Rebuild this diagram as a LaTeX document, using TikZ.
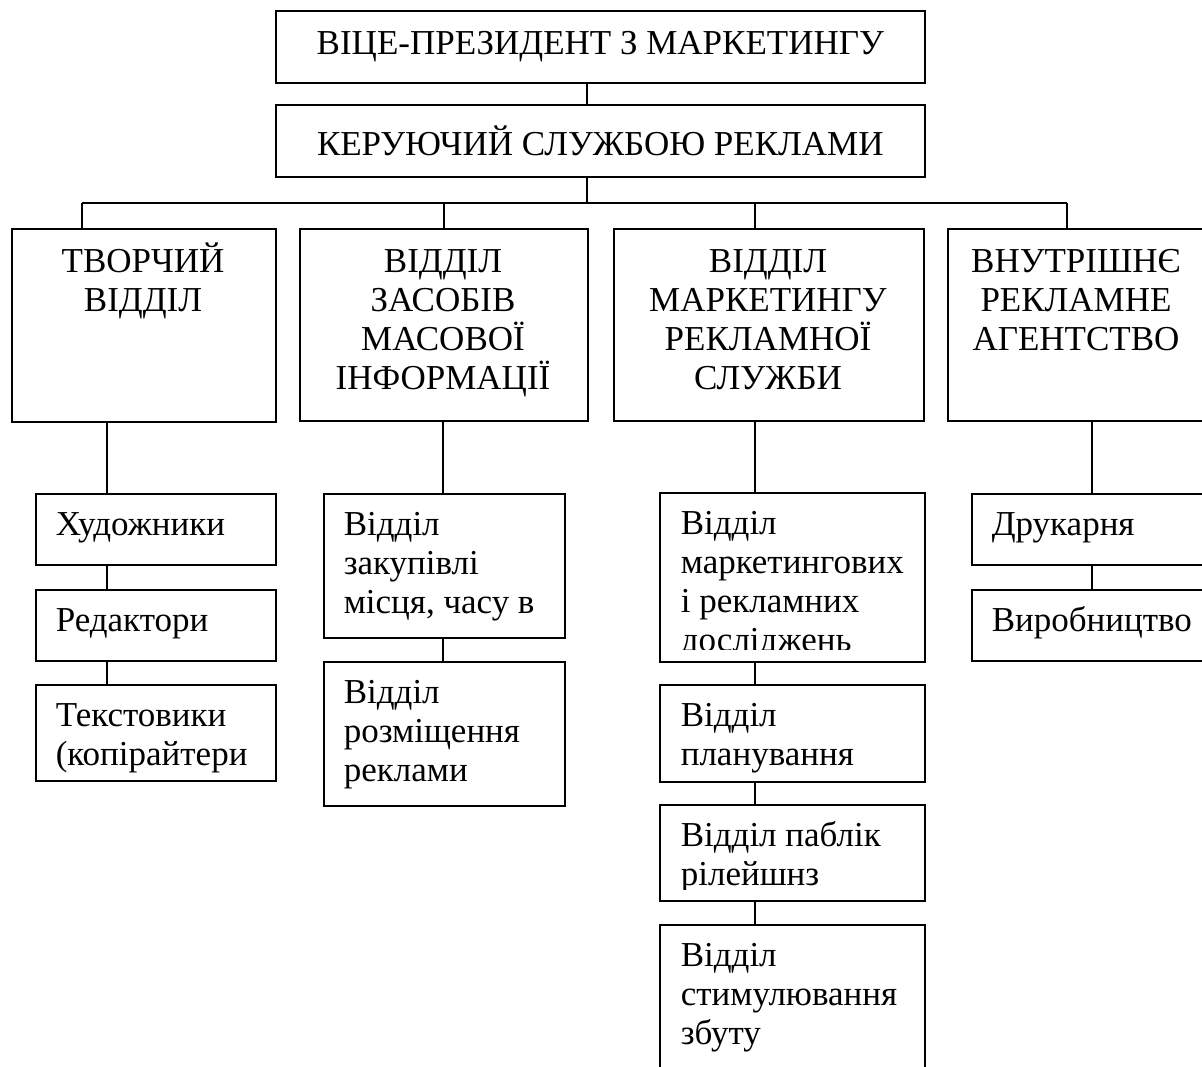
\documentclass[tikz,border=0pt]{standalone}
\usepackage{fontspec}
\setmainfont{Liberation Serif}
\usepackage{tikz}

\begin{document}
\begin{tikzpicture}[x=1pt,y=-1pt,line width=1.6pt,
    box/.style={draw,rectangle,inner sep=0pt,anchor=north west},
    txt/.style={inner sep=0pt,font=\fontsize{35}{39}\selectfont},
    head/.style={txt,align=center,anchor=base},
    item/.style={txt,align=left,anchor=base west}]
  \useasboundingbox (0,0) rectangle (1202,1066);
  \clip (0,0) rectangle (1202,1066);

  % top of the chart
  \node[box,minimum width=649,minimum height=72] (vp) at (275,10) {};
  \node[txt] (vp-t) at (vp.center) {ВІЦЕ-ПРЕЗИДЕНТ З МАРКЕТИНГУ};
  \node[box,minimum width=649,minimum height=72] (krs) at (275,104) {};
  \node[txt] (krs-t) at (krs.center) {КЕРУЮЧИЙ СЛУЖБОЮ РЕКЛАМИ};

  % departments (text placed at the baseline of its last line)
  \node[box,minimum width=264,minimum height=193] (tv) at (11,228) {};
  \node[head] (tv-t) at (143,311) {ТВОРЧИЙ\\ВІДДІЛ};
  \node[box,minimum width=288,minimum height=192] (zmi) at (299,228) {};
  \node[head] (zmi-t) at (443,389) {ВІДДІЛ\\ЗАСОБІВ\\МАСОВОЇ\\ІНФОРМАЦІЇ};
  \node[box,minimum width=310,minimum height=192] (mrs) at (613,228) {};
  \node[head] (mrs-t) at (768,389) {ВІДДІЛ\\МАРКЕТИНГУ\\РЕКЛАМНОЇ\\СЛУЖБИ};
  \node[box,minimum width=259,minimum height=192] (vra) at (947,228) {};
  \node[head] (vra-t) at (1076,350) {ВНУТРІШНЄ\\РЕКЛАМНЕ\\АГЕНТСТВО};

  % creative dept
  \node[box,minimum width=240,minimum height=71] (hud) at (35,493) {};
  \node[item] (hud-t) at (55,535) {Художники};
  \node[box,minimum width=240,minimum height=71] (red) at (35,589) {};
  \node[item] (red-t) at (55,631) {Редактори};
  \node[box,minimum width=240,minimum height=96] (tex) at (35,684) {};
  \node[item] (tex-t) at (55,765) {Текстовики\\(копірайтери};

  % media dept
  \node[box,minimum width=241,minimum height=144] (zak) at (323,493) {};
  \node[item] (zak-t) at (343,613) {Відділ\\закупівлі\\місця, часу в};
  \node[box,minimum width=241,minimum height=144] (roz) at (323,661) {};
  \node[item] (roz-t) at (343,781) {Відділ\\розміщення\\реклами};

  % marketing dept
  \node[box,minimum width=265,minimum height=169] (mkd) at (659,492) {};
  \begin{scope}
    \clip (659,492) rectangle (924,649);
    \node[item] (mkd-t) at (680,651) {Відділ\\маркетингових\\і рекламних\\досліджень};
  \end{scope}
  \node[box,minimum width=265,minimum height=97] (plan) at (659,684) {};
  \node[item] (plan-t) at (680,765) {Відділ\\планування};
  \node[box,minimum width=265,minimum height=96] (pr) at (659,804) {};
  \begin{scope}
    \clip (659,804) rectangle (924,889);
    \node[item] (pr-t) at (680,885) {Відділ паблік\\рілейшнз};
  \end{scope}
  \node[box,minimum width=265,minimum height=160] (stim) at (659,924) {};
  \node[item] (stim-t) at (680,1044) {Відділ\\стимулювання\\збуту};

  % in-house agency
  \node[box,minimum width=250,minimum height=71] (dru) at (971,493) {};
  \node[item] (dru-t) at (991,535) {Друкарня};
  \node[box,minimum width=250,minimum height=71] (vyr) at (971,589) {};
  \node[item] (vyr-t) at (991,631) {Виробництво};

  % lines
  \coordinate (top) at (587,203);
  \coordinate (d1) at (82,203);
  \coordinate (d2) at (444,203);
  \coordinate (d3) at (755,203);
  \coordinate (d4) at (1067,203);
  \coordinate (a1) at (107,0);
  \coordinate (a2) at (443,0);
  \coordinate (a3) at (755,0);
  \coordinate (a4) at (1092,0);
  \draw (vp.south -| top) -- (krs.north -| top);
  \draw (krs.south -| top) -- (top);
  \draw (d1) -- (d4);
  \draw (d1) -- (tv.north -| d1);
  \draw (d2) -- (zmi.north -| d2);
  \draw (d3) -- (mrs.north -| d3);
  \draw (d4) -- (vra.north -| d4);
  \draw (tv.south -| a1) -- (hud.north -| a1);
  \draw (hud.south -| a1) -- (red.north -| a1);
  \draw (red.south -| a1) -- (tex.north -| a1);
  \draw (zmi.south -| a2) -- (zak.north -| a2);
  \draw (zak.south -| a2) -- (roz.north -| a2);
  \draw (mrs.south -| a3) -- (mkd.north -| a3);
  \draw (mkd.south -| a3) -- (plan.north -| a3);
  \draw (plan.south -| a3) -- (pr.north -| a3);
  \draw (pr.south -| a3) -- (stim.north -| a3);
  \draw (vra.south -| a4) -- (dru.north -| a4);
  \draw (dru.south -| a4) -- (vyr.north -| a4);
\end{tikzpicture}
\end{document}
